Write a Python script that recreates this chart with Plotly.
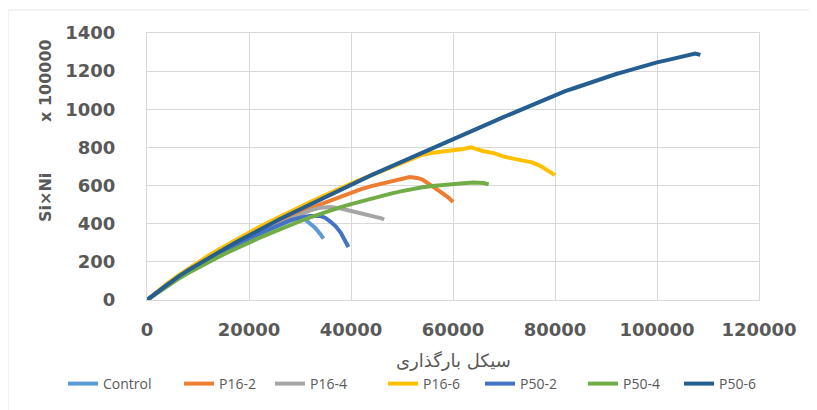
import plotly.graph_objects as go

# ---- data ----
ctrl_x = [0, 2000, 4000, 6000, 8000, 10000, 12000, 14000, 16000, 18000, 20000, 22000, 24000, 26000, 28000, 29000, 30000, 31000, 32000, 33000, 34000, 34600]
ctrl_y = [0, 41, 80, 116, 150, 182, 212, 241, 269, 296, 322, 347, 371, 394, 415, 424, 430, 422, 402, 378, 345, 322]

p162_x = [0, 2000, 4000, 6000, 8000, 10000, 12000, 14000, 16000, 18000, 20000, 22000, 24000, 26000, 28000, 30000, 32000, 34000, 36000, 38000, 40000, 42000, 44000, 46000, 48000, 50000, 51500, 53000, 54000, 56000, 58000, 59000, 60000]
p162_y = [0, 42, 82, 120, 155, 188, 220, 250, 279, 307, 334, 360, 385, 410, 434, 457, 480, 502, 523, 543, 563, 581, 597, 611, 624, 636, 645, 640, 632, 596, 562, 540, 514]

p164_x = [0, 2000, 4000, 6000, 8000, 10000, 12000, 14000, 16000, 18000, 20000, 22000, 24000, 26000, 28000, 30000, 32000, 34000, 36000, 38000, 40000, 42000, 44000, 46000, 46500]
p164_y = [0, 41, 80, 116, 150, 182, 213, 242, 270, 298, 325, 350, 375, 400, 425, 450, 470, 484, 488, 480, 468, 455, 441, 428, 422]

p166_x = [0, 2000, 4000, 6000, 8000, 10000, 12000, 14000, 16000, 18000, 20000, 22000, 24000, 26000, 28000, 30000, 32000, 34000, 36000, 38000, 40000, 42000, 44000, 46000, 48000, 50000, 52000, 54000, 56000, 58000, 60000, 62000, 63500, 64500, 66000, 68000, 70000, 72000, 74000, 75500, 77000, 78500, 80000]
p166_y = [0, 45, 88, 127, 164, 198, 232, 263, 294, 325, 355, 383, 410, 437, 463, 489, 514, 539, 564, 588, 611, 633, 655, 677, 698, 719, 742, 762, 772, 778, 783, 792, 801, 792, 780, 770, 752, 740, 731, 722, 705, 682, 655]

p502_x = [0, 2000, 4000, 6000, 8000, 10000, 12000, 14000, 16000, 18000, 20000, 22000, 24000, 26000, 28000, 30000, 32000, 34000, 35000, 36000, 37000, 38000, 39000, 39500]
p502_y = [0, 41, 80, 116, 150, 182, 212, 241, 269, 296, 322, 347, 372, 396, 418, 432, 441, 440, 430, 410, 386, 352, 308, 278]

p504_x = [0, 2000, 4000, 6000, 8000, 10000, 12000, 14000, 16000, 18000, 20000, 22000, 24000, 26000, 28000, 30000, 32000, 34000, 36000, 38000, 40000, 42000, 44000, 46000, 48000, 50000, 52000, 54000, 56000, 58000, 60000, 62000, 64000, 66000, 67000]
p504_y = [0, 38, 74, 108, 140, 170, 198, 226, 252, 278, 302, 325, 348, 371, 392, 413, 433, 452, 470, 487, 503, 518, 532, 546, 559, 571, 582, 591, 598, 604, 608, 612, 616, 613, 606]

p506_x = [0, 2000, 4000, 6000, 8000, 10000, 12000, 14000, 16000, 18000, 20000, 22000, 24000, 26000, 28000, 30000, 32000, 34000, 36000, 38000, 40000, 42000, 44000, 46000, 48000, 50000, 52000, 54000, 56000, 58000, 60000, 62000, 64000, 66000, 68000, 70000, 72000, 74000, 76000, 78000, 80000, 82000, 84000, 86000, 88000, 90000, 92000, 94000, 96000, 98000, 100000, 102000, 104000, 106000, 107500, 108500]
p506_y = [0, 42, 82, 120, 155, 188, 220, 251, 281, 311, 340, 368, 396, 423, 450, 476, 502, 528, 553, 580, 605, 630, 655, 678, 702, 726, 750, 772, 796, 820, 845, 868, 891, 914, 937, 960, 983, 1006, 1029, 1052, 1075, 1095, 1113, 1132, 1150, 1168, 1185, 1200, 1216, 1232, 1246, 1258, 1270, 1280, 1292, 1285]

x_ticks = [0, 20000, 40000, 60000, 80000, 100000, 120000]
y_ticks = [0, 200, 400, 600, 800, 1000, 1200, 1400]

series_names = ["Control", "P16-2", "P16-4", "P16-6", "P50-2", "P50-4", "P50-6"]
series_x = [ctrl_x, p162_x, p164_x, p166_x, p502_x, p504_x, p506_x]
series_y = [ctrl_y, p162_y, p164_y, p166_y, p502_y, p504_y, p506_y]
series_colors = ["#5B9BD5", "#ED7D31", "#A5A5A5", "#FFC000", "#4472C4", "#70AD47", "#255E91"]

# the page body has an 8px default margin; the figure is sized to fit the window
OFF = 8
W, H = 817 - OFF, 410 - OFF
PL, PR, PT, PB = 147, 759, 33, 300   # plot area in window pixels
ml, mr, mt, mb = PL - OFF, (W + OFF) - PR, PT - OFF, (H + OFF) - PB
pw, ph = PR - PL, PB - PT

def px_x(p):
    return (p - PL) / pw

def px_y(p):
    return (PB - p) / ph

# legend text start positions in window pixels
legend_text_px = [103, 219, 310, 423, 520, 623, 719]

fig = go.Figure()
legend_layouts = {}
for i, (name, xs, ys, col) in enumerate(zip(series_names, series_x, series_y, series_colors)):
    key = "legend" if i == 0 else f"legend{i + 1}"
    fig.add_trace(go.Scatter(x=xs, y=ys, mode="lines", name=name,
                             line=dict(color=col, width=4), legend=key))
    legend_layouts[key] = dict(
        orientation="h", x=px_x(legend_text_px[i] - 40), xanchor="left",
        y=px_y(384), yanchor="middle",
        font=dict(family="Open Sans, Arial, sans-serif", size=14, color="#595959"),
        bgcolor="rgba(0,0,0,0)", borderwidth=0,
    )

tick_font = dict(family="DejaVu Sans, sans-serif", size=18, color="#595959", weight="bold")
title_font = dict(family="DejaVu Sans, sans-serif", size=16, color="#595959", weight="bold")
grid = "#d9d9d9"

fig.update_layout(
    width=W, height=H,
    margin=dict(l=ml, r=mr, t=mt, b=mb, autoexpand=False),
    paper_bgcolor="white", plot_bgcolor="white",
    showlegend=True,
    xaxis=dict(range=[0, 120000], tickvals=x_ticks, ticktext=[str(v) for v in x_ticks],
               showgrid=True, gridcolor=grid, gridwidth=1, zeroline=False,
               showline=True, linecolor=grid, mirror=True,
               tickfont=tick_font, ticks="", ticklabelstandoff=13),
    yaxis=dict(range=[0, 1400], tickvals=y_ticks, ticktext=[str(v) for v in y_ticks],
               showgrid=True, gridcolor=grid, gridwidth=1, zeroline=False,
               showline=True, linecolor=grid, mirror=True,
               tickfont=tick_font, ticks="", ticklabelstandoff=27),
    annotations=[
        dict(text="سیکل بارگذاری", xref="paper", yref="paper", x=px_x(453), y=px_y(360),
             xanchor="center", yanchor="middle", showarrow=False,
             font=dict(family="DejaVu Sans, sans-serif", size=18, color="#595959")),
        dict(text="x 100000", xref="paper", yref="paper", x=px_x(45), y=px_y(81),
             xanchor="center", yanchor="middle", showarrow=False, textangle=-90,
             font=title_font),
        dict(text="Si×Ni", xref="paper", yref="paper", x=px_x(45), y=px_y(198),
             xanchor="center", yanchor="middle", showarrow=False, textangle=-90,
             font=title_font),
    ],
    shapes=[
        dict(type="rect", xref="paper", yref="paper", x0=px_x(8), x1=px_x(840), y0=px_y(430), y1=px_y(10),
             line=dict(color="#e6e6e6", width=1), fillcolor="rgba(0,0,0,0)", layer="below"),
    ],
    **legend_layouts,
)

fig.write_html("out.html")
